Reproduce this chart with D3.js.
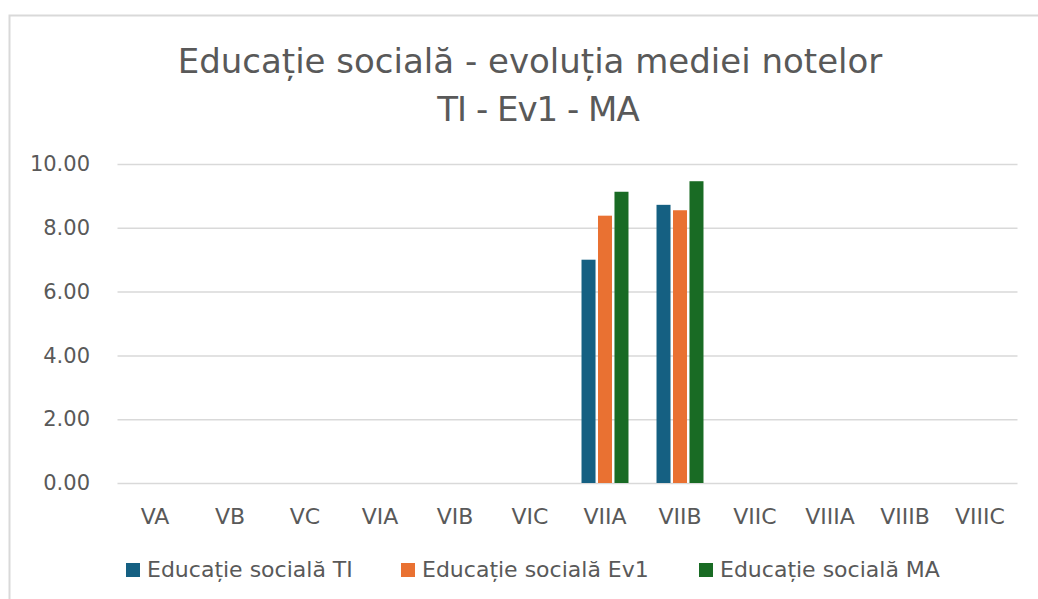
<!DOCTYPE html>
<html>
<head>
<meta charset="utf-8">
<script src="https://cdn.jsdelivr.net/npm/d3@7"></script>
<style>
  body { margin: 0; background: #fff; }
  text { font-family: "DejaVu Sans", sans-serif; fill: #595959; }
</style>
</head>
<body>
<div id="chart"></div>
<script>
(function groupedbar() {

  var width = 1038;
  var height = 599;

  var classes = ["VA", "VB", "VC", "VIA", "VIB", "VIC", "VIIA", "VIIB", "VIIC", "VIIIA", "VIIIB", "VIIIC"];
  var series = ["Educație socială TI", "Educație socială Ev1", "Educație socială MA"];
  var values_ti = [0, 0, 0, 0, 0, 0, 7.00, 8.72, 0, 0, 0, 0];
  var values_ev1 = [0, 0, 0, 0, 0, 0, 8.38, 8.55, 0, 0, 0, 0];
  var values_ma = [0, 0, 0, 0, 0, 0, 9.13, 9.46, 0, 0, 0, 0];
  var y_ticks = [0, 2, 4, 6, 8, 10];
  var colors = ["#156082", "#e97132", "#196b24"];

  var margin = { top: 164, bottom: 116, left: 117.5, right: 20.5 };

  var svg = d3.select("#chart")
    .append("svg")
    .attr("width", width)
    .attr("height", height);

  // chart area border (runs past the right / bottom edge)
  svg.append("rect")
    .attr("x", 9.5)
    .attr("y", 15.5)
    .attr("width", 1100)
    .attr("height", 700)
    .attr("fill", "#fff")
    .attr("stroke", "#d9d9d9")
    .attr("stroke-width", 2);

  svg.append("text")
    .attr("x", 530)
    .attr("y", 72.5)
    .attr("text-anchor", "middle")
    .style("font-size", "34px")
    .text("Educație socială - evoluția mediei notelor");

  svg.append("text")
    .attr("x", 538)
    .attr("y", 121)
    .attr("text-anchor", "middle")
    .style("font-size", "34px")
    .style("letter-spacing", "-1px")
    .text("TI - Ev1 - MA");

  var x = d3.scaleBand()
    .domain(classes)
    .range([margin.left, width - margin.right]);

  var x1 = d3.scaleBand()
    .domain(series)
    .range([0, x.bandwidth()])
    .paddingInner(0.15)
    .paddingOuter(0.85);

  var y = d3.scaleLinear()
    .domain([0, 10])
    .range([height - margin.bottom, margin.top]);

  // gridlines
  svg.append("g")
    .attr("class", "grid")
    .attr("transform", "translate(" + margin.left + ",0)")
    .call(d3.axisLeft(y)
      .tickValues(y_ticks)
      .tickSize(-(width - margin.left - margin.right))
      .tickFormat("")
    )
    .call(g => g.select(".domain").remove())
    .call(g => g.selectAll("line").attr("stroke", "#d9d9d9").attr("stroke-width", 1.5));

  // y labels
  svg.append("g")
    .attr("transform", "translate(90,0)")
    .call(d3.axisLeft(y)
      .tickValues(y_ticks)
      .tickSize(0)
      .tickPadding(0)
      .tickFormat(d3.format(".2f"))
    )
    .call(g => g.select(".domain").remove())
    .call(g => g.selectAll("text").style("font-size", "21px").style("font-family", null).attr("fill", null));

  // x labels
  svg.append("g")
    .attr("transform", "translate(0," + (height - margin.bottom) + ")")
    .call(d3.axisBottom(x).tickSize(0).tickPadding(25))
    .call(g => g.select(".domain").remove())
    .call(g => g.selectAll("text").style("font-size", "22px").style("font-family", null).attr("fill", null));

  var data = classes.map(function(c, i) {
    return { cls: c, vals: [values_ti[i], values_ev1[i], values_ma[i]] };
  });

  var groups = svg.selectAll(".group")
    .data(data)
    .enter()
    .append("g")
    .attr("class", "group")
    .attr("transform", d => "translate(" + x(d.cls) + ",0)");

  groups.selectAll("rect")
    .data(d => d.vals.map((v, j) => ({ key: series[j], value: v, j: j })))
    .enter()
    .append("rect")
    .filter(d => d.value > 0)
    .attr("x", d => x1(d.key))
    .attr("width", x1.bandwidth())
    .attr("y", d => y(d.value))
    .attr("height", d => y(0) - y(d.value))
    .attr("fill", d => colors[d.j]);

  // legend
  var legend_x = [126, 401, 699];
  var legend = svg.selectAll(".legend")
    .data(series)
    .enter()
    .append("g")
    .attr("class", "legend")
    .attr("transform", (d, i) => "translate(" + legend_x[i] + ",570)");

  legend.append("rect")
    .attr("x", 0)
    .attr("y", -7)
    .attr("width", 14)
    .attr("height", 14)
    .attr("fill", (d, i) => colors[i]);

  legend.append("text")
    .attr("x", 21)
    .attr("y", 6.5)
    .style("font-size", "22px")
    .text(d => d);

})();
</script>
</body>
</html>
